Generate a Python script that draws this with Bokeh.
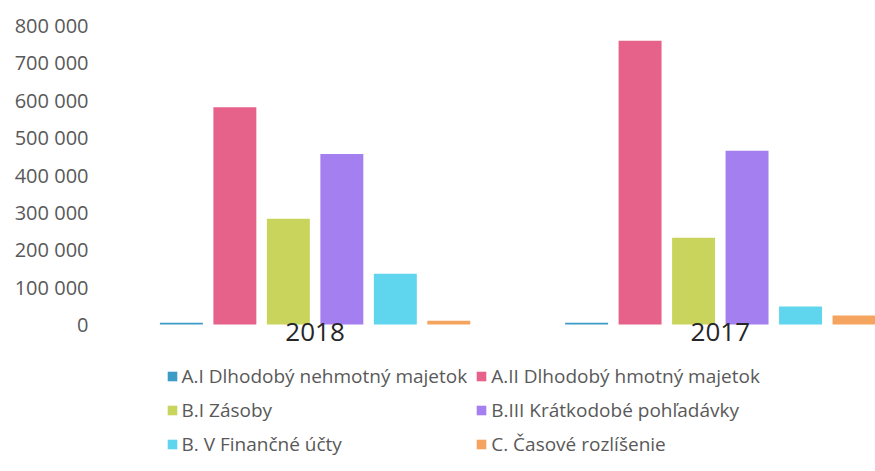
from bokeh.plotting import figure
from bokeh.models import (ColumnDataSource, Range1d, FixedTicker, CustomJSTickFormatter,
                          Legend, LegendItem)
from bokeh.transform import dodge
from bokeh.embed import file_html
from bokeh.resources import INLINE

years = ["2018", "2017"]
series = ["A.I Dlhodobý nehmotný majetok", "A.II Dlhodobý hmotný majetok",
          "B.I Zásoby", "B.III Krátkodobé pohľadávky",
          "B. V Finančné účty", "C. Časové rozlíšenie"]
a1 = [5000, 5000]
a2 = [581000, 759000]
b1 = [283000, 232000]
b3 = [456000, 465000]
b5 = [136000, 48000]
c = [10000, 24000]
values = [a1, a2, b1, b3, b5, c]
colors = ["#3d9cc6", "#e6628a", "#c9d45c", "#a37ff0", "#5fd6ee", "#f5a460"]
y_ticks = [0, 100000, 200000, 300000, 400000, 500000, 600000, 700000, 800000]

data = {"x": [0.5, 1.5]}
for i, v in enumerate(values):
    data[f"s{i}"] = v
src = ColumnDataSource(data)

# layout geometry (pixels)
H = 463
TOP = 25
ZERO = 324
Y_MAX = 800000
y_start = -(H - ZERO) / (ZERO - TOP) * Y_MAX

FONT = "Open Sans"
p = figure(width=875, height=H, output_backend="svg", toolbar_location=None,
           x_range=Range1d(0, 1.883), y_range=Range1d(y_start, Y_MAX),
           min_border_left=112, min_border_right=0, min_border_top=TOP,
           min_border_bottom=0)
p.outline_line_color = None
p.xgrid.grid_line_color = None
p.ygrid.grid_line_color = None

pitch = 0.132
width = 0.106
renderers = []
for i in range(len(series)):
    off = (i - 2.5) * pitch
    r = p.vbar(x=dodge("x", off, range=p.x_range), top=f"s{i}", width=width,
               source=src, color=colors[i], line_color=None)
    renderers.append(r)

p.yaxis.ticker = FixedTicker(ticks=y_ticks)
p.yaxis.formatter = CustomJSTickFormatter(
    code='return tick.toFixed(0).replace(/\\B(?=(\\d{3})+(?!\\d))/g, " ");')
p.yaxis.axis_line_color = None
p.yaxis.major_tick_line_color = None
p.yaxis.minor_tick_line_color = None
p.yaxis.major_label_standoff = 18
p.yaxis.major_label_text_font = FONT
p.yaxis.major_label_text_font_size = "20px"
p.yaxis.major_label_text_color = "#595959"

p.xaxis.fixed_location = 0
p.xaxis.ticker = FixedTicker(ticks=[0.5, 1.5])
p.xaxis.major_label_overrides = {0.5: years[0], 1.5: years[1]}
p.xaxis.axis_line_color = None
p.xaxis.major_tick_line_color = None
p.xaxis.minor_tick_line_color = None
p.xaxis.major_tick_out = 0
p.xaxis.major_tick_in = 0
p.xaxis.major_label_standoff = -2
p.xaxis.major_label_text_font = FONT
p.xaxis.major_label_text_font_size = "26px"
p.xaxis.major_label_text_color = "#262626"

items = [LegendItem(label=s, renderers=[r]) for s, r in zip(series, renderers)]
legend = Legend(items=items, location=(53.5, 6), orientation="horizontal", ncols=2,
                border_line_color=None, background_fill_alpha=0, padding=0, margin=0,
                glyph_width=12, glyph_height=12, label_standoff=4, spacing=8,
                label_height=20, label_text_font=FONT, label_text_font_size="19px",
                label_text_color="#595959")
p.add_layout(legend, "center")

open("out.html", "w").write(file_html(p, INLINE))
